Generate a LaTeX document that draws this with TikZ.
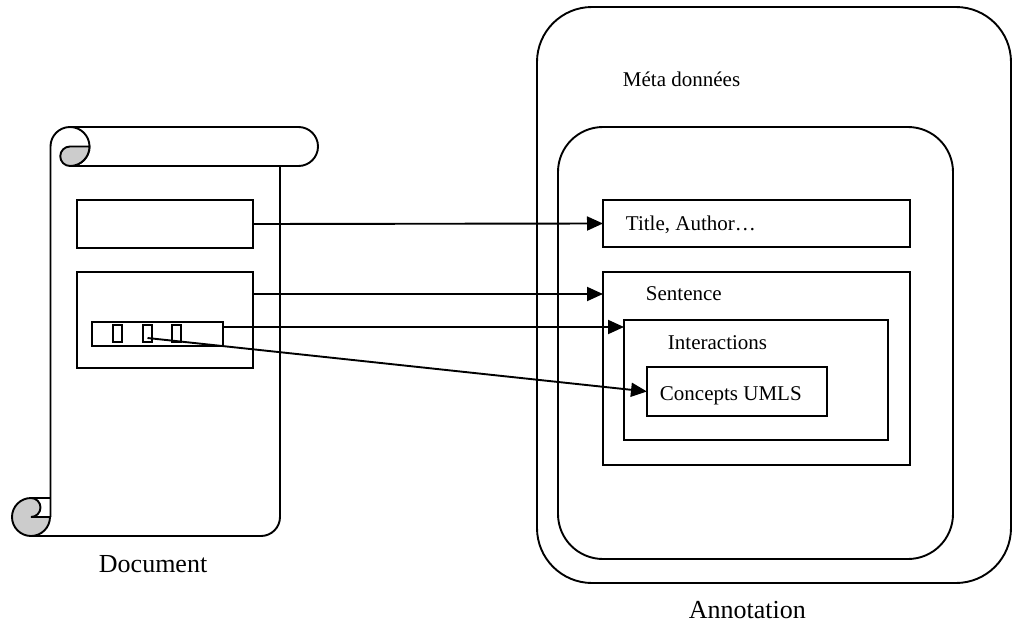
\documentclass[tikz,border=0pt]{standalone}
\usepackage{fontspec}
\setmainfont{Liberation Serif}
\usetikzlibrary{arrows.meta}
\begin{document}
\begin{tikzpicture}[x=1pt,y=1pt,line width=1.9pt,
  box/.style={draw,inner sep=0pt,outer sep=0pt},
  intext/.style={inner sep=0pt,anchor=base west,font=\fontsize{21}{25}\selectfont},
  lbl/.style={inner sep=0pt,anchor=base west,font=\fontsize{26}{30}\selectfont},
  arr/.style={-{Triangle[length=16pt,width=14pt]}},
  curl/.style={draw,fill=gray!40}]
\useasboundingbox (0,0) rectangle (1013,-624);
% Annotation side
\node[box,rounded corners=55pt,minimum width=474pt,minimum height=576pt] (outer) at (774,-295) {};
\node[box,rounded corners=45pt,minimum width=395pt,minimum height=432pt] (inner) at (755.5,-343) {};
\node[box,minimum width=307pt,minimum height=47pt] (title) at (756.5,-223.5) {};
\node[box,minimum width=307pt,minimum height=193pt] (sent) at (756.5,-368.5) {};
\node[box,minimum width=264pt,minimum height=120pt] (inter) at (756,-380) {};
\node[box,minimum width=180pt,minimum height=49pt] (conc) at (737,-391.5) {};
\node[intext] (tmeta) at (622,-86) {Méta données};
\node[intext] (ttitle) at (625,-230) {Title, Author…};
\node[intext] (tsent) at (645,-300) {Sentence};
\node[intext] (tinter) at (667,-349) {Interactions};
\node[intext] (tconc) at (659,-400) {Concepts UMLS};
\node[lbl] (tann) at (688,-618) {Annotation};
% Document scroll
\draw (50.5,-517) -- (50.5,-146.5) arc[start angle=180,end angle=90,radius=19.5pt]
  -- (298.5,-127) arc[start angle=90,end angle=-90,radius=19.5pt] -- (70,-166);
\draw (70,-127) arc[start angle=90,end angle=-90,radius=19.5pt];
\draw[curl] (70,-166) arc[start angle=-90,end angle=-270,radius=9.75pt]
  -- (89.5,-146.5) arc[start angle=0,end angle=-90,radius=19.5pt] -- cycle;
\draw (280,-166) -- (280,-517) arc[start angle=0,end angle=-90,radius=19pt] -- (31,-536);
\draw[curl] (31,-498) arc[start angle=90,end angle=360,radius=19pt]
  -- (31,-517) arc[start angle=-90,end angle=90,radius=9.5pt] -- cycle;
\draw (31,-498) -- (50.5,-498);
\node[lbl] (tdoc) at (98,-572) {Document};
\node[box,minimum width=176pt,minimum height=48pt] (r1) at (165,-224) {};
\node[box,minimum width=176pt,minimum height=96pt] (r2) at (165,-320) {};
\node[box,minimum width=131pt,minimum height=24pt] (strip) at (157.5,-334) {};
\node[box,minimum width=9pt,minimum height=17pt,line width=1.4pt] (s1) at (117.5,-333.5) {};
\node[box,minimum width=9pt,minimum height=17pt,line width=1.4pt] (s2) at (147.5,-333.5) {};
\node[box,minimum width=9pt,minimum height=17pt,line width=1.4pt] (s3) at (176.5,-333.5) {};
% connectors
\draw[arr] (r1.east) -- (title.west);
\draw[arr] (r2.east |- 0,-294) -- (sent.west |- 0,-294);
\draw[arr] (strip.east |- 0,-327) -- (inter.west |- 0,-327);
\draw[arr] ([yshift=-4.5pt]s2.center) -- (conc.west);
\end{tikzpicture}
\end{document}
